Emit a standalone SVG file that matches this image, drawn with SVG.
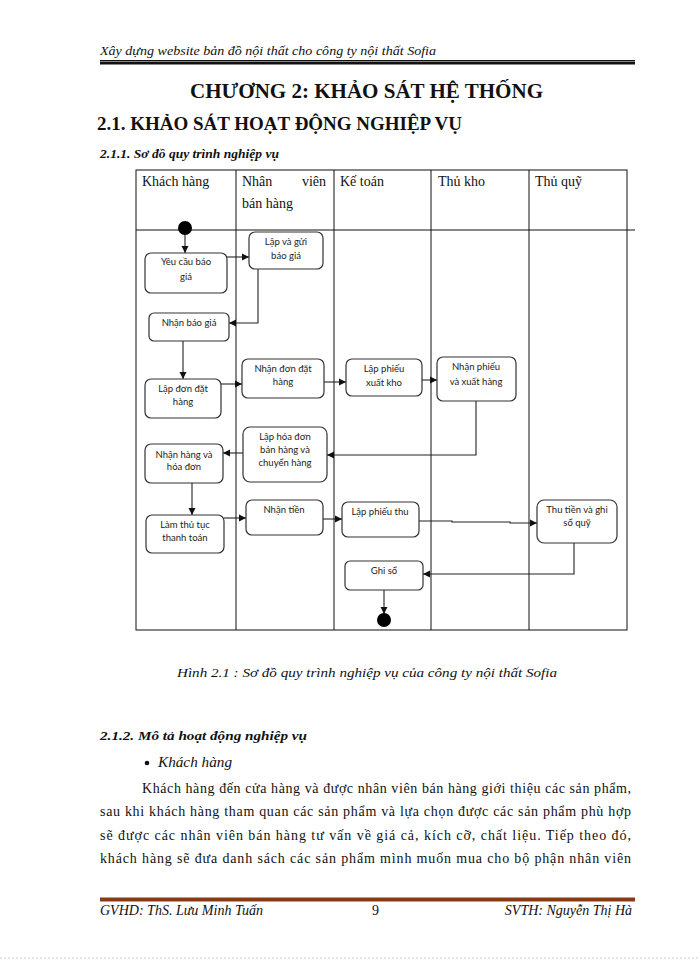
<svg xmlns="http://www.w3.org/2000/svg" width="700" height="960" viewBox="0 0 700 960">
<style>
.serif{font-family:"Liberation Serif","Times New Roman",serif;fill:#111}
.it{font-style:italic}
.b{font-weight:bold}
.box{fill:#fff;stroke:#333;stroke-width:1.2}
.bt{font-family:Lato,"Open Sans","Liberation Sans",sans-serif;font-size:9.5px;fill:#222;text-anchor:middle}
.grid{stroke:#111;stroke-width:1;fill:none}
.con{stroke:#222;stroke-width:1.1;fill:none}
</style>
<defs>
<marker id="ah" markerUnits="userSpaceOnUse" markerWidth="8" markerHeight="8" refX="7" refY="4" orient="auto">
<path d="M0,0.5 L7,4 L0,7.5 Z" fill="#111"/>
</marker>
</defs>
<rect width="700" height="960" fill="#fff"/>

<g id="page-header">
<text class="serif it" x="100" y="55" font-size="13" textLength="336" lengthAdjust="spacingAndGlyphs">Xây dựng website bản đồ nội thất cho công ty nội thất Sofia</text>
<line x1="100" y1="60.5" x2="635" y2="60.5" stroke="#111" stroke-width="1"/>
<line x1="100" y1="63" x2="635" y2="63" stroke="#111" stroke-width="3"/>
</g>

<g id="headings">
<text class="serif b" x="190" y="98" font-size="20" textLength="353" lengthAdjust="spacingAndGlyphs">CHƯƠNG 2: KHẢO SÁT HỆ THỐNG</text>
<text class="serif b" x="97" y="130" font-size="18" textLength="365" lengthAdjust="spacingAndGlyphs">2.1. KHẢO SÁT HOẠT ĐỘNG NGHIỆP VỤ</text>
<text class="serif b it" x="100" y="158" font-size="13" textLength="179" lengthAdjust="spacingAndGlyphs">2.1.1. Sơ đồ quy trình nghiệp vụ</text>
</g>

<g id="swimlanes">
<rect class="grid" x="136" y="170" width="491" height="460"/>
<line class="grid" x1="236" y1="170" x2="236" y2="630"/>
<line class="grid" x1="334" y1="170" x2="334" y2="630"/>
<line class="grid" x1="431" y1="170" x2="431" y2="630"/>
<line class="grid" x1="529" y1="170" x2="529" y2="630"/>
<line class="grid" x1="136" y1="230" x2="635" y2="230"/>
<text class="serif" x="142" y="186" font-size="14">Khách hàng</text>
<text class="serif" x="242" y="186" font-size="14">Nhân</text>
<text class="serif" x="326" y="186" font-size="14" text-anchor="end">viên</text>
<text class="serif" x="242" y="208" font-size="14">bán hàng</text>
<text class="serif" x="340" y="186" font-size="14">Kế toán</text>
<text class="serif" x="438" y="186" font-size="14">Thủ kho</text>
<text class="serif" x="535" y="186" font-size="14">Thủ quỹ</text>
</g>

<g id="connectors">
<line class="con" x1="185" y1="234" x2="185" y2="253" marker-end="url(#ah)"/>
<line class="con" x1="227" y1="257" x2="249" y2="257" marker-end="url(#ah)"/>
<polyline class="con" points="258,269 258,323 229,323" marker-end="url(#ah)"/>
<line class="con" x1="183" y1="341" x2="183" y2="379" marker-end="url(#ah)"/>
<line class="con" x1="221" y1="384" x2="242" y2="384" marker-end="url(#ah)"/>
<line class="con" x1="324" y1="382" x2="346" y2="382" marker-end="url(#ah)"/>
<line class="con" x1="422" y1="380" x2="437" y2="380" marker-end="url(#ah)"/>
<polyline class="con" points="476,401 476,455 327,455" marker-end="url(#ah)"/>
<line class="con" x1="243" y1="453" x2="223" y2="453" marker-end="url(#ah)"/>
<line class="con" x1="192" y1="483" x2="192" y2="515" marker-end="url(#ah)"/>
<line class="con" x1="224" y1="518" x2="246" y2="518" marker-end="url(#ah)"/>
<line class="con" x1="323" y1="519" x2="342" y2="519" marker-end="url(#ah)"/>
<polyline class="con" points="419,521 452,521 452,522 510,522 510,523 537,523" marker-end="url(#ah)"/>
<polyline class="con" points="574,543 574,574 423,574" marker-end="url(#ah)"/>
<line class="con" x1="384" y1="590" x2="384" y2="614" marker-end="url(#ah)"/>
</g>

<g id="start"><circle cx="185" cy="228" r="7" fill="#000"/></g>
<g id="end"><circle cx="384" cy="620" r="7" fill="#000"/></g>

<g id="n-yeucau"><rect class="box" x="145" y="253" width="82" height="40" rx="6"/><text class="bt" x="186" y="265">Yêu cầu báo</text><text class="bt" x="186" y="280">giá</text></g>
<g id="n-lapgui"><rect class="box" x="249" y="232" width="74" height="37" rx="6"/><text class="bt" x="286" y="245">Lập và gửi</text><text class="bt" x="286" y="259">báo giá</text></g>
<g id="n-nhanbaogia"><rect class="box" x="149" y="313" width="80" height="28" rx="5"/><text class="bt" x="189" y="326">Nhận báo giá</text></g>
<g id="n-lapdon"><rect class="box" x="145" y="379" width="76" height="39" rx="6"/><text class="bt" x="183" y="392">Lập đơn đặt</text><text class="bt" x="183" y="405">hàng</text></g>
<g id="n-nhandon"><rect class="box" x="242" y="359" width="82" height="39" rx="6"/><text class="bt" x="283" y="372">Nhận đơn đặt</text><text class="bt" x="283" y="385">hàng</text></g>
<g id="n-lapphieuxk"><rect class="box" x="346" y="359" width="76" height="37" rx="6"/><text class="bt" x="384" y="372">Lập phiếu</text><text class="bt" x="384" y="386">xuất kho</text></g>
<g id="n-nhanphieu"><rect class="box" x="437" y="357" width="79" height="44" rx="6"/><text class="bt" x="476" y="370">Nhận phiếu</text><text class="bt" x="476" y="385">và xuất hàng</text></g>
<g id="n-laphoadon"><rect class="box" x="243" y="427" width="84" height="55" rx="7"/><text class="bt" x="285" y="440">Lập hóa đơn</text><text class="bt" x="285" y="453">bán hàng và</text><text class="bt" x="285" y="466">chuyển hàng</text></g>
<g id="n-nhanhang"><rect class="box" x="145" y="444" width="78" height="39" rx="6"/><text class="bt" x="184" y="458">Nhận hàng và</text><text class="bt" x="184" y="470">hóa đơn</text></g>
<g id="n-lamthutuc"><rect class="box" x="146" y="515" width="78" height="38" rx="6"/><text class="bt" x="185" y="528">Làm thủ tục</text><text class="bt" x="185" y="541">thanh toán</text></g>
<g id="n-nhantien"><rect class="box" x="246" y="500" width="77" height="35" rx="6"/><text class="bt" x="284" y="513">Nhận tiền</text></g>
<g id="n-lapphieuthu"><rect class="box" x="342" y="502" width="77" height="35" rx="6"/><text class="bt" x="380" y="515">Lập phiếu thu</text></g>
<g id="n-thutien"><rect class="box" x="537" y="500" width="80" height="43" rx="7"/><text class="bt" x="577" y="513">Thu tiền và ghi</text><text class="bt" x="577" y="526">sổ quỹ</text></g>
<g id="n-ghiso"><rect class="box" x="345" y="561" width="78" height="29" rx="5"/><text class="bt" x="384" y="574">Ghi sổ</text></g>

<g id="caption">
<text class="serif it" x="177" y="677" font-size="13" textLength="380" lengthAdjust="spacingAndGlyphs">Hình 2.1 : Sơ đồ quy trình nghiệp vụ của công ty nội thất Sofia</text>
</g>

<g id="body">
<text class="serif b it" x="100" y="740" font-size="13" textLength="207" lengthAdjust="spacingAndGlyphs">2.1.2. Mô tả hoạt động nghiệp vụ</text>
<circle cx="147" cy="763" r="2.3" fill="#111"/>
<text class="serif it" x="158" y="767" font-size="14" textLength="74" lengthAdjust="spacingAndGlyphs">Khách hàng</text>
<text class="serif" x="142" y="793" font-size="14" textLength="489" lengthAdjust="spacing">Khách hàng đến cửa hàng và được nhân viên bán hàng giới thiệu các sản phẩm,</text>
<text class="serif" x="100" y="816" font-size="14" textLength="531" lengthAdjust="spacing">sau khi khách hàng tham quan các sản phẩm và lựa chọn được các sản phẩm phù hợp</text>
<text class="serif" x="100" y="840" font-size="14" textLength="531" lengthAdjust="spacing">sẽ được các nhân viên bán hàng tư vấn về giá cả, kích cỡ, chất liệu. Tiếp theo đó,</text>
<text class="serif" x="100" y="863" font-size="14" textLength="531" lengthAdjust="spacing">khách hàng sẽ đưa danh sách các sản phẩm mình muốn mua cho bộ phận nhân viên</text>
</g>

<g id="page-footer">
<line x1="100" y1="899.5" x2="635" y2="899.5" stroke="#8a3a14" stroke-width="4"/>
<text class="serif it" x="100" y="915" font-size="14" textLength="163" lengthAdjust="spacingAndGlyphs">GVHD: ThS. Lưu Minh Tuấn</text>
<text class="serif" x="372" y="915" font-size="14">9</text>
<text class="serif it" x="632" y="915" font-size="14" text-anchor="end">SVTH: Nguyễn Thị Hà</text>
<line x1="0" y1="958" x2="700" y2="958" stroke="#ccc" stroke-width="1" stroke-dasharray="2,2"/>
</g>
</svg>
